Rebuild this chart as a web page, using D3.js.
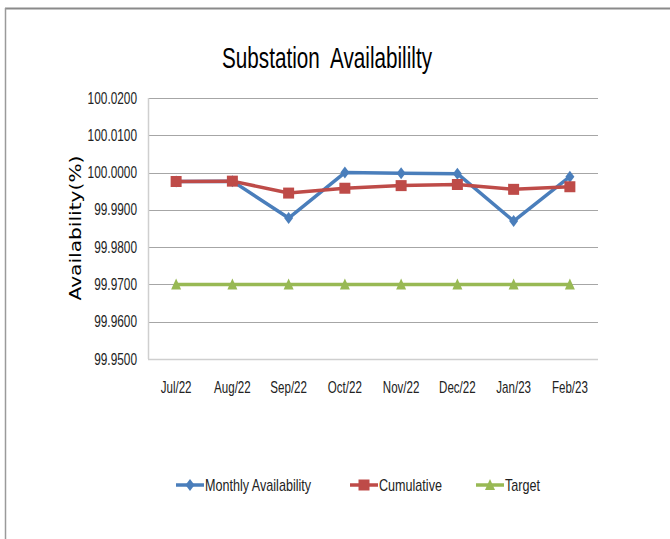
<!DOCTYPE html>
<html>
<head>
<meta charset="utf-8">
<script src="https://cdnjs.cloudflare.com/ajax/libs/d3/7.8.5/d3.min.js"></script>
<style>
  body { margin: 0; background: #fff; }
  svg { display: block; }
</style>
</head>
<body>
<div id="chart"></div>
<script>
var months = ["Jul/22", "Aug/22", "Sep/22", "Oct/22", "Nov/22", "Dec/22", "Jan/23", "Feb/23"];
var monthly = [99.9976, 99.9977, 99.9878, 100.0000, 99.9998, 99.9997, 99.9870, 99.9989];
var cumulative = [99.9976, 99.9977, 99.9945, 99.9958, 99.9965, 99.9968, 99.9955, 99.9962];
var target = [99.97, 99.97, 99.97, 99.97, 99.97, 99.97, 99.97, 99.97];
var yTicks = [99.95, 99.96, 99.97, 99.98, 99.99, 100.00, 100.01, 100.02];

var seriesNames = ["Monthly Availability", "Cumulative", "Target"];
var seriesColors = ["#4a7ebb", "#be4b48", "#98b954"];

var svgWidth = 670, svgHeight = 539;
var margin = { top: 98, left: 148, right: 72, bottom: 180 };
var width = svgWidth - margin.left - margin.right;
var height = svgHeight - margin.top - margin.bottom;

// squeeze text horizontally (no narrow fonts installed)
function condense(sel, factor) {
  sel.each(function() {
    var w = this.getComputedTextLength();
    d3.select(this).attr("textLength", w * factor).attr("lengthAdjust", "spacingAndGlyphs");
  });
}

var svg = d3.select("#chart").append("svg")
  .attr("width", svgWidth)
  .attr("height", svgHeight);

// outer frame (top and left only visible)
svg.append("line").attr("x1", 5).attr("x2", 670).attr("y1", 8.5).attr("y2", 8.5)
  .attr("stroke", "#8a8a8a").attr("stroke-width", 2);
svg.append("line").attr("x1", 5.5).attr("x2", 5.5).attr("y1", 8).attr("y2", 539)
  .attr("stroke", "#9a9a9a").attr("stroke-width", 1.5);

svg.append("text")
  .attr("x", 327).attr("y", 68)
  .attr("text-anchor", "middle")
  .style("font-family", "'Liberation Sans', Arial, sans-serif")
  .style("font-size", "29px")
  .style("white-space", "pre")
  .style("fill", "#000")
  .text("Substation  Availabililty")
  .attr("textLength", 210).attr("lengthAdjust", "spacingAndGlyphs");

var chartGroup = svg.append("g")
  .attr("transform", `translate(${margin.left}, ${margin.top})`);

var x = d3.scaleBand().domain(months).range([0, width]);
var y = d3.scaleLinear().domain([99.95, 100.02]).range([height, 0]);

// gridlines
chartGroup.append("g").selectAll("line")
  .data(yTicks.slice(1))
  .enter().append("line")
  .attr("x1", 0).attr("x2", width)
  .attr("y1", d => Math.round(y(d)) + 0.5).attr("y2", d => Math.round(y(d)) + 0.5)
  .attr("stroke", "#a6a6a6").attr("stroke-width", 1);

// axes lines
chartGroup.append("line")
  .attr("x1", 0.5).attr("x2", 0.5).attr("y1", 0).attr("y2", height)
  .attr("stroke", "#cfcfcf").attr("stroke-width", 1.5);
chartGroup.append("line")
  .attr("x1", 0).attr("x2", width).attr("y1", height + 0.5).attr("y2", height + 0.5)
  .attr("stroke", "#cfcfcf").attr("stroke-width", 1.5);

var leftAxis = d3.axisLeft(y).tickValues(yTicks).tickSize(0).tickPadding(11)
  .tickFormat(d3.format(".4f"));
var yAxis = chartGroup.append("g").call(leftAxis);
yAxis.select(".domain").remove();
yAxis.selectAll("text")
  .style("font-family", "'Liberation Sans', Arial, sans-serif")
  .style("font-size", "16px")
  .style("fill", "#222")
  .call(condense, 0.74);

var bottomAxis = d3.axisBottom(x).tickSize(0).tickPadding(22);
var xAxis = chartGroup.append("g")
  .attr("transform", `translate(0, ${height})`)
  .call(bottomAxis);
xAxis.select(".domain").remove();
xAxis.selectAll("text")
  .style("font-family", "'Liberation Sans', Arial, sans-serif")
  .style("font-size", "17px")
  .style("fill", "#222")
  .call(condense, 0.68);

svg.append("text")
  .attr("transform", "translate(81, 228) rotate(-90)")
  .attr("text-anchor", "middle")
  .style("font-family", "'DejaVu Sans', Verdana, sans-serif")
  .style("font-size", "16px")
  .style("fill", "#000")
  .text("Availability(%)")
  .attr("textLength", 145).attr("lengthAdjust", "spacingAndGlyphs");

var cx = d => x(d) + x.bandwidth() / 2;

var line = d3.line()
  .x((d, i) => cx(months[i]))
  .y(d => y(d));

var diamond = "M0,-6 L4.5,0 L0,6 L-4.5,0 Z";
var square = "M-5.5,-5.5 H5.5 V5.5 H-5.5 Z";
var triangle = "M0,-6 L5,5 L-5,5 Z";

function drawSeries(values, color, shape) {
  chartGroup.append("path")
    .datum(values)
    .attr("fill", "none")
    .attr("stroke", color)
    .attr("stroke-width", 3.5)
    .attr("stroke-linejoin", "round")
    .attr("d", line);
  chartGroup.append("g").selectAll("path")
    .data(values)
    .enter().append("path")
    .attr("d", shape)
    .attr("fill", color)
    .attr("transform", (d, i) => `translate(${cx(months[i])}, ${y(d)})`);
}

drawSeries(target, seriesColors[2], triangle);
drawSeries(monthly, seriesColors[0], diamond);
drawSeries(cumulative, seriesColors[1], square);

// legend
var legendX = [176, 350, 476];
var legendShapes = [diamond, square, triangle];
var legend = svg.append("g").attr("transform", "translate(0, 485)");
seriesNames.forEach(function(name, i) {
  var g = legend.append("g").attr("transform", `translate(${legendX[i]}, 0)`);
  g.append("line").attr("x1", 0).attr("x2", 28).attr("y1", 0).attr("y2", 0)
    .attr("stroke", seriesColors[i]).attr("stroke-width", 3.5);
  g.append("path").attr("d", legendShapes[i]).attr("fill", seriesColors[i])
    .attr("transform", "translate(14, 0)");
  g.append("text").attr("x", 29).attr("y", 6)
    .style("font-family", "'Liberation Sans', Arial, sans-serif")
    .style("font-size", "17px")
    .style("fill", "#222")
    .text(name)
    .call(condense, 0.74);
});
</script>
</body>
</html>
